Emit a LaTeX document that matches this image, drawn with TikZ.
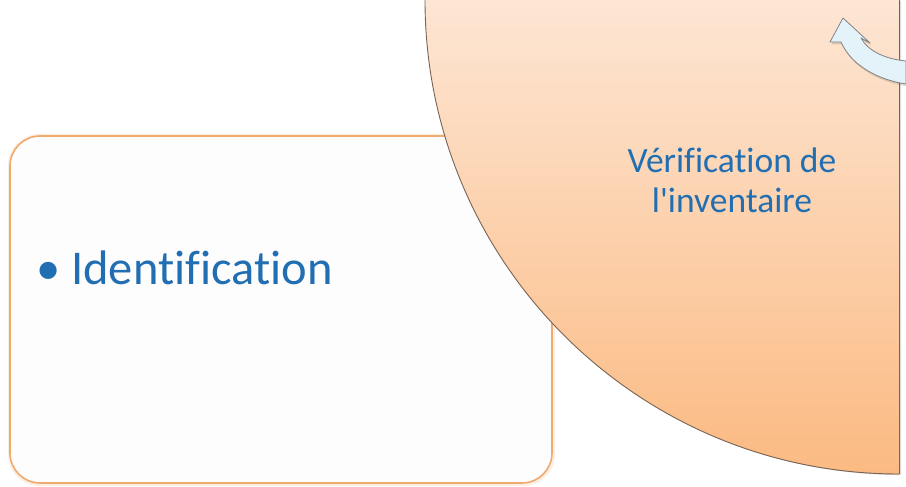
\documentclass[tikz,border=0pt]{standalone}
\usepackage{fontspec}
\setmainfont{Carlito}[Ligatures={TeXOff,NoCommon}]
\definecolor{txtblue}{RGB}{33,110,178}
\definecolor{boxborder}{RGB}{240,170,110}
\definecolor{boxfill}{RGB}{253,253,253}
\definecolor{peachtop}{RGB}{253,230,212}
\definecolor{peachbot}{RGB}{251,186,130}
\definecolor{rimgray}{RGB}{120,100,85}
\definecolor{arrowfill}{RGB}{228,242,250}
\definecolor{arrowline}{RGB}{130,130,130}
\tikzset{
  boxstyle/.style={draw=boxborder, line width=1.6pt, fill=boxfill, rounded corners=30pt},
  rimstyle/.style={draw=rimgray, line width=0.9pt},
  labeltext/.style={text=txtblue, inner sep=0pt},
}
\begin{document}
\begin{tikzpicture}[x=1pt,y=1pt]
\useasboundingbox (0,0) rectangle (906,487);
\fill[white] (0,0) rectangle (906,487);
% left box
\fill[boxborder!20, rounded corners=32pt] (8,1) rectangle (555,353);
\draw[boxstyle] (10,4) rectangle (552,351);
\node[labeltext, anchor=base west] (ident) at (36,202) {\fontsize{48.5}{58}\selectfont • Identification};
% shadow of quarter disc
\foreach \o/\a in {6/0.05,4.5/0.07,3/0.09,1.5/0.12}{
  \fill[black, opacity=\a] (899+\o*0.4,487-\o*0.2) -- (425+\o*0.4,487-\o*0.2) arc[start angle=180, end angle=270, radius=474] -- cycle;
}
% quarter disc
\shade[top color=peachtop, bottom color=peachbot] (899,487) -- (425,487) arc[start angle=180, end angle=270, radius=474] -- cycle;
\draw[rimstyle] (425,487) arc[start angle=180, end angle=270, radius=474] coordinate (rimend);
\draw[rimstyle] (rimend) -- (899,487);
\node[labeltext, align=center, font=\fontsize{35.5}{40}\selectfont] (verif) at (732,307) {Vérification de\\l'inventaire};
% curved arrow
\fill[black, opacity=0.12, shift={(1.5,-2.5)}]
  (843,469) -- (870,444) -- (861,449)
  .. controls (868,436) and (885,428) .. (906,426)
  -- (906,403)
  .. controls (880,407) and (852,420) .. (841,445)
  -- (830,445) -- cycle;
\filldraw[fill=arrowfill, draw=arrowline, line width=0.8pt, line join=round]
  (843,469) -- (870,444) -- (861,449)
  .. controls (868,436) and (885,428) .. (906,426)
  -- (906,403)
  .. controls (880,407) and (852,420) .. (841,445)
  -- (830,445) -- cycle;
\end{tikzpicture}
\end{document}
